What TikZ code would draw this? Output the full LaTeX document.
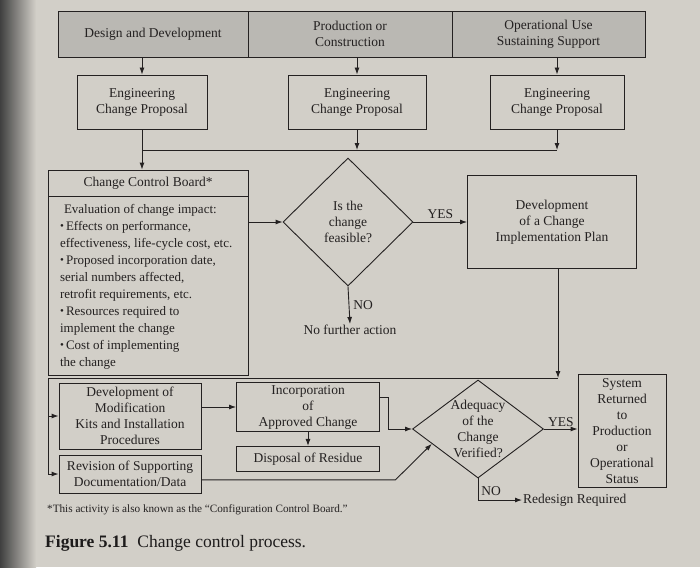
\documentclass[tikz,border=0pt]{standalone}
\usepackage{fontspec}
\setmainfont{Liberation Serif}
\usepackage{tikz}
\usetikzlibrary{arrows.meta,positioning,shapes.geometric,calc}
\definecolor{pagebg}{RGB}{210,207,200}
\definecolor{hdrfill}{RGB}{186,184,179}
\definecolor{inkc}{RGB}{36,33,33}
\newcommand{\ccfont}{\fontsize{13.5}{16}\selectfont}
\newcommand{\ccitem}{\makebox[6pt][l]{\raisebox{0.5pt}{\fontsize{11}{11}\selectfont\textbullet}}}
\tikzset{
  ccbox/.style={draw=inkc,line width=0.9pt,align=center,inner sep=1pt,
    text=inkc,font=\ccfont},
  cchdr/.style={ccbox,fill=hdrfill,minimum height=46pt},
  ccdia/.style={ccbox,diamond,inner sep=0pt},
  ccflow/.style={-{Latex[length=7pt,width=5pt]},draw=inkc,line width=0.9pt},
  ccline/.style={draw=inkc,line width=0.9pt},
  cclab/.style={text=inkc,font=\ccfont,inner sep=1pt},
}

\begin{document}
\begin{tikzpicture}[x=1pt,y=-1pt]
\fill[pagebg] (0,0) rectangle (700,567);
\shade[left color=black!75,right color=pagebg] (0,0) rectangle (36,567);
\useasboundingbox (0,0) rectangle (700,567);

% life-cycle phases
\node[cchdr,minimum width=190pt] (hdD) at (153,34) {Design and Development};
\node[cchdr,minimum width=204pt] (hdP) at (350,34) {Production or\\Construction};
\node[cchdr,minimum width=193pt] (hdO) at (548.5,34) {Operational Use\\Sustaining Support};

\node[ccbox,minimum width=130pt,minimum height=54pt] (ecpD) at (142,102) {Engineering\\Change Proposal};
\node[ccbox,minimum width=138pt,minimum height=54pt] (ecpP) at (357,102) {Engineering\\Change Proposal};
\node[ccbox,minimum width=134pt,minimum height=54pt] (ecpO) at (557,102) {Engineering\\Change Proposal};
\draw[ccflow] (ecpD.north |- hdD.south) -- (ecpD.north);
\draw[ccflow] (ecpP.north |- hdP.south) -- (ecpP.north);
\draw[ccflow] (ecpO.north |- hdO.south) -- (ecpO.north);

% board
\coordinate (busT) at (557,150);
\node[ccbox,minimum width=200pt,minimum height=26pt] (ccbT) at (148,183) {Change Control Board*};
\node[ccbox,minimum width=200pt,minimum height=179pt,anchor=north,align=left,
  font=\fontsize{13}{17}\selectfont] (ccbB) at (ccbT.south)
  {\hspace*{4pt}Evaluation of change impact:\\
   \ccitem Effects on performance,\\
   effectiveness, life-cycle cost, etc.\\
   \ccitem Proposed incorporation date,\\
   serial numbers affected,\\
   retrofit requirements, etc.\\
   \ccitem Resources required to\\
   implement the change\\
   \ccitem Cost of implementing\\
   the change\hspace*{120pt}};
\draw[ccline] (ecpD.south |- busT) -- (busT);
\draw[ccflow] (ecpP.south) -- (ecpP.south |- busT);
\draw[ccflow] (ecpO.south) -- (busT);
\draw[ccflow] (ecpD.south) -- (ecpD.south |- ccbT.north);

% feasibility
\node[ccdia,minimum width=130pt,minimum height=128pt] (feas) at (348,222) {Is the\\change\\feasible?};
\node[ccbox,minimum width=169pt,minimum height=93pt] (plan) at (552,222) {Development\\of a Change\\Implementation Plan};
\node[cclab] (nofa) at (350,330) {No further action};
\draw[ccflow] (ccbB.east |- feas.west) -- (feas.west);
\draw[ccflow] (feas.east) -- node[cclab,above=2pt] {YES} (plan.west);
\draw[ccflow] (feas.south) -- node[cclab,right=3pt] {NO} (nofa.north);

% implementation
\coordinate (busB) at (558,378);
\coordinate (busL) at (48,378);
\node[ccbox,minimum width=142pt,minimum height=66pt] (mods) at (130,416) {Development of\\Modification\\Kits and Installation\\Procedures};
\node[ccbox,minimum width=142pt,minimum height=38pt] (revs) at (130,474) {Revision of Supporting\\Documentation/Data};
\node[ccbox,minimum width=143pt,minimum height=49pt] (incp) at (308,407) {Incorporation\\of\\Approved Change};
\node[ccbox,minimum width=143pt,minimum height=25pt,below=14pt of incp] (disp) {Disposal of Residue};
\draw[ccflow] (plan.south -| busB) -- (busB);
\draw[ccflow] (busB) -- (busL) |- (revs.west);
\draw[ccflow] (busL |- mods.west) -- (mods.west);
\draw[ccflow] (mods.east |- incp.west) -- (incp.west);
\draw[ccflow] (incp.south) -- (disp.north);

% verification
\node[ccdia,minimum width=131pt,minimum height=98pt] (adeq) at (478,429) {};
\node[cclab,align=center] (adeqT) at (478,429) {Adequacy\\of the\\Change\\Verified?};
\node[ccbox,minimum width=88pt,minimum height=113pt] (sysr) at (622,431) {System\\Returned\\to\\Production\\or\\Operational\\Status};
\node[cclab,anchor=west] (redo) at (522,500) {Redesign Required};
\draw[ccflow] ($(incp.north east)!0.3!(incp.south east)$) -- ++(8,0) |- (adeq.west);
\draw[ccflow] ($(revs.north east)!0.65!(revs.south east)$) -- ++(194,0) -- ($(adeq.west)!0.3!(adeq.south)$);
\draw[ccflow] (adeq.east) -- node[cclab,above=1pt] {YES} (sysr.west |- adeq.east);
\draw[ccflow] (adeq.south) |- node[cclab,right=2pt,pos=0.3] {NO} (redo.west);

\node[anchor=west,text=inkc,inner sep=0pt,font=\fontsize{11.2}{13}\selectfont] (fnote) at (47,510)
  {*This activity is also known as the “Configuration Control Board.”};
\node[anchor=west,text=inkc!80!black,inner sep=0pt,font=\fontsize{17.5}{20}\selectfont] (capt) at (45,543)
  {\textbf{Figure 5.11}\hspace{9pt}Change control process.};
\end{tikzpicture}
\end{document}
